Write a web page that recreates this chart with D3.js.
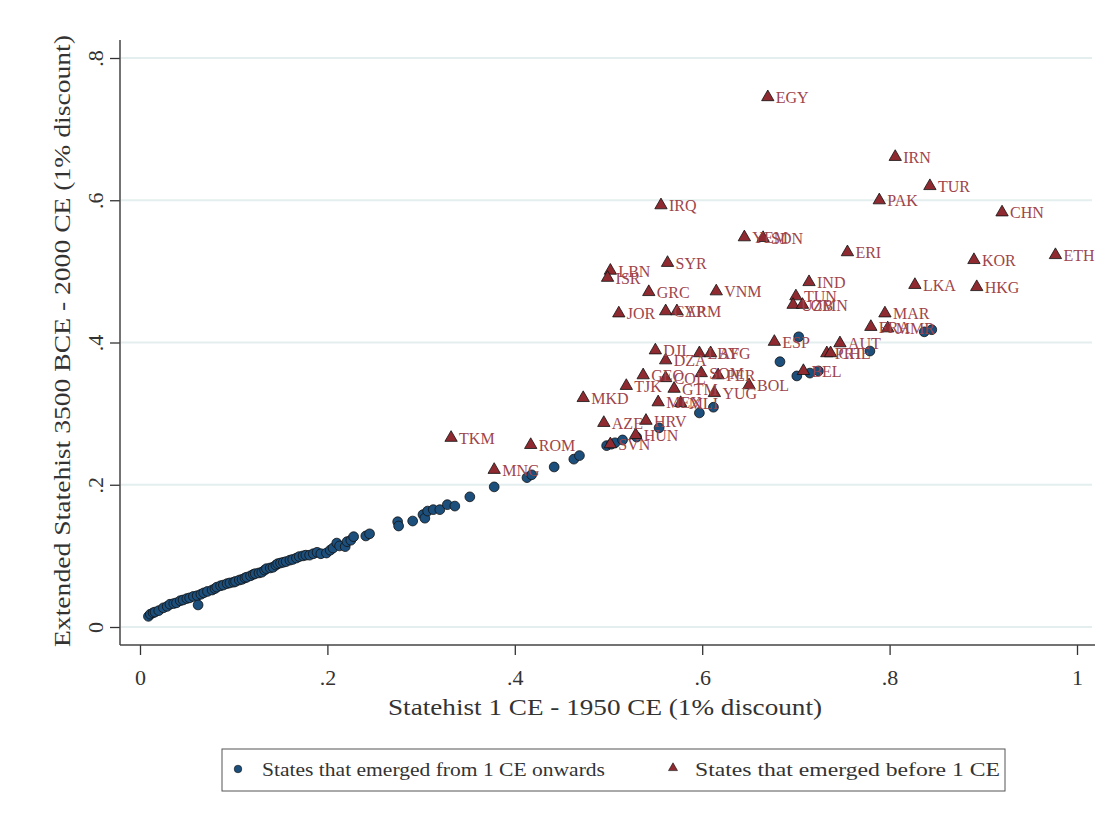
<!DOCTYPE html>
<html>
<head>
<meta charset="utf-8">
<script src="https://cdn.jsdelivr.net/npm/d3@7"></script>
<style>
  body { margin: 0; background: #fff; }
  text { font-family: "Liberation Serif", "DejaVu Serif", serif; }
</style>
</head>
<body>
<script>
// blue points: states that emerged from 1 CE onwards
var circleX = [0.009, 0.011, 0.014, 0.016, 0.020, 0.025, 0.029, 0.032, 0.036, 0.039,
  0.043, 0.046, 0.050, 0.053, 0.057, 0.061, 0.062, 0.065, 0.068, 0.072,
  0.077, 0.080, 0.082, 0.086, 0.089, 0.093, 0.096, 0.100, 0.102, 0.106,
  0.109, 0.112, 0.114, 0.118, 0.121, 0.123, 0.127, 0.130, 0.133, 0.135,
  0.139, 0.142, 0.145, 0.147, 0.150, 0.153, 0.156, 0.160, 0.163, 0.167,
  0.170, 0.174, 0.177, 0.181, 0.185, 0.189, 0.193, 0.199, 0.203, 0.206,
  0.210, 0.213, 0.219, 0.221, 0.225, 0.228, 0.241, 0.245, 0.275, 0.276,
  0.291, 0.302, 0.304, 0.307, 0.313, 0.320, 0.328, 0.336, 0.352, 0.378,
  0.413, 0.418, 0.442, 0.463, 0.469, 0.498, 0.503, 0.507, 0.515, 0.530,
  0.554, 0.597, 0.612, 0.683, 0.701, 0.703, 0.715, 0.724, 0.779, 0.837, 0.845];
var circleY = [0.015, 0.018, 0.020, 0.021, 0.023, 0.027, 0.029, 0.032, 0.033, 0.034,
  0.037, 0.038, 0.040, 0.041, 0.043, 0.044, 0.031, 0.046, 0.048, 0.050,
  0.052, 0.054, 0.056, 0.058, 0.059, 0.061, 0.062, 0.063, 0.064, 0.066,
  0.067, 0.069, 0.070, 0.072, 0.074, 0.075, 0.076, 0.077, 0.080, 0.082,
  0.083, 0.084, 0.087, 0.089, 0.090, 0.091, 0.092, 0.094, 0.095, 0.097,
  0.099, 0.100, 0.101, 0.101, 0.103, 0.105, 0.103, 0.104, 0.108, 0.111,
  0.118, 0.114, 0.113, 0.120, 0.122, 0.127, 0.128, 0.131, 0.148, 0.142,
  0.149, 0.158, 0.153, 0.163, 0.165, 0.165, 0.172, 0.170, 0.183, 0.197,
  0.210, 0.214, 0.225, 0.236, 0.241, 0.255, 0.257, 0.259, 0.263, 0.267,
  0.280, 0.301, 0.309, 0.373, 0.353, 0.408, 0.357, 0.360, 0.388, 0.415, 0.418];

// red triangles: states that emerged before 1 CE
var triCodes = ["EGY", "IRN", "TUR", "PAK", "CHN", "ETH", "KOR", "HKG", "LKA", "ERI",
  "IRQ", "YEM", "SDN", "SYR", "LBN", "ISR", "GRC", "JOR", "CYP", "ARM",
  "VNM", "IND", "TUN", "UZB", "OMN", "MAR", "FRA", "MMR", "AUT", "PRT",
  "CHE", "ESP", "DJI", "DZA", "LBY", "AFG", "GEO", "COL", "SOM", "PER",
  "BOL", "TJK", "GTM", "YUG", "MEX", "MLI", "MKD", "AZE", "HRV", "HUN",
  "SVN", "TKM", "ROM", "MNG", "BEL"];
var triX = [0.670, 0.806, 0.843, 0.789, 0.920, 0.977, 0.890, 0.893, 0.827, 0.755,
  0.556, 0.645, 0.665, 0.563, 0.502, 0.499, 0.543, 0.511, 0.561, 0.573,
  0.615, 0.714, 0.700, 0.697, 0.707, 0.795, 0.780, 0.798, 0.747, 0.733,
  0.737, 0.677, 0.550, 0.561, 0.597, 0.609, 0.537, 0.561, 0.599, 0.617,
  0.650, 0.519, 0.570, 0.613, 0.553, 0.577, 0.473, 0.495, 0.540, 0.529,
  0.502, 0.332, 0.417, 0.378, 0.708];
var triY = [0.745, 0.661, 0.620, 0.600, 0.583, 0.523, 0.516, 0.478, 0.481, 0.527,
  0.593, 0.548, 0.547, 0.512, 0.501, 0.491, 0.471, 0.441, 0.444, 0.444,
  0.472, 0.485, 0.465, 0.453, 0.453, 0.441, 0.422, 0.420, 0.399, 0.385,
  0.385, 0.401, 0.389, 0.375, 0.385, 0.385, 0.354, 0.350, 0.357, 0.354,
  0.340, 0.339, 0.335, 0.329, 0.316, 0.315, 0.322, 0.287, 0.290, 0.270,
  0.257, 0.266, 0.256, 0.221, 0.360];

var xTicks = [0, 0.2, 0.4, 0.6, 0.8, 1];
var yTicks = [0, 0.2, 0.4, 0.6, 0.8];
var xTitle = "Statehist 1 CE - 1950 CE (1% discount)";
var yTitle = "Extended Statehist 3500 BCE - 2000 CE (1% discount)";
var legendLabels = ["States that emerged from 1 CE onwards", "States that emerged before 1 CE"];

var W = 1115, H = 813;
var blue = "#1c4f7c", red = "#8f2a30", labelColor = "#9e454b";

var svg = d3.select("body").append("svg")
  .attr("width", W).attr("height", H);

svg.append("rect").attr("x", 0).attr("y", 0).attr("width", W).attr("height", H)
  .attr("fill", "#fff");

var x = d3.scaleLinear().domain([0, 1]).range([140, 1077]);
var y = d3.scaleLinear().domain([0, 0.8]).range([627, 58]);

var fmt = function(d) { return d === 0 ? "0" : d === 1 ? "1" : d3.format(".1f")(d).replace(/^0/, ""); };

// grid lines
svg.selectAll(".grid").data(yTicks).enter().append("line")
  .attr("x1", 121).attr("x2", 1092)
  .attr("y1", d => y(d)).attr("y2", d => y(d))
  .attr("stroke", "#e4eeee").attr("stroke-width", 2);

// axes
var xAxis = svg.append("g").attr("transform", "translate(0,645)")
  .call(d3.axisBottom(x).tickValues(xTicks).tickFormat(fmt).tickSize(10).tickPadding(14));
var yAxis = svg.append("g").attr("transform", "translate(120,0)")
  .call(d3.axisLeft(y).tickValues(yTicks).tickFormat(fmt).tickSize(10).tickPadding(14));

[xAxis, yAxis].forEach(function(g) {
  g.select(".domain").remove();
  g.selectAll(".tick line").attr("stroke", "#333").attr("stroke-width", 1.3);
  g.selectAll(".tick text").attr("fill", "#333").style("font-size", "22px")
    .style("font-family", "'Liberation Serif', serif");
});
yAxis.selectAll(".tick text")
  .attr("x", null).attr("dy", null)
  .attr("text-anchor", "middle")
  .attr("transform", "translate(-17,0) rotate(-90)");

// axis lines
svg.append("line").attr("x1", 120).attr("x2", 1095).attr("y1", 645).attr("y2", 645)
  .attr("stroke", "#444").attr("stroke-width", 1.5);
svg.append("line").attr("x1", 120).attr("x2", 120).attr("y1", 40).attr("y2", 645)
  .attr("stroke", "#444").attr("stroke-width", 1.5);

// titles
svg.append("text").attr("x", 605).attr("y", 715).attr("text-anchor", "middle")
  .attr("fill", "#333").style("font-size", "23px")
  .attr("textLength", 434).attr("lengthAdjust", "spacingAndGlyphs").text(xTitle);
svg.append("text").attr("transform", "translate(70,341) rotate(-90)")
  .attr("text-anchor", "middle").attr("fill", "#333").style("font-size", "23px")
  .attr("textLength", 612).attr("lengthAdjust", "spacingAndGlyphs").text(yTitle);

// circles
var circles = circleX.map((d, i) => ({ x: d, y: circleY[i] }));
svg.append("g").selectAll("path").data(circles).enter().append("path")
  .attr("d", d3.symbol(d3.symbolCircle, 75))
  .attr("transform", d => "translate(" + x(d.x) + "," + y(d.y) + ")")
  .attr("fill", blue).attr("stroke", "#111").attr("stroke-width", 0.8);

// triangles with labels
var tris = triCodes.map((c, i) => ({ code: c, x: triX[i], y: triY[i] }));
var tg = svg.append("g");
tg.selectAll("path").data(tris).enter().append("path")
  .attr("d", d3.symbol(d3.symbolTriangle, 66))
  .attr("transform", d => "translate(" + x(d.x) + "," + y(d.y) + ")")
  .attr("fill", red).attr("stroke", "#111").attr("stroke-width", 0.8);
tg.selectAll("text").data(tris).enter().append("text")
  .attr("x", d => x(d.x) + 8).attr("y", d => y(d.y) + 6)
  .attr("fill", labelColor).style("font-size", "16px")
  .text(d => d.code);

// legend
var lg = svg.append("g");
lg.append("rect").attr("x", 222).attr("y", 749).attr("width", 783).attr("height", 42)
  .attr("fill", "#fff").attr("stroke", "#555").attr("stroke-width", 1);
lg.append("path").attr("d", d3.symbol(d3.symbolCircle, 45))
  .attr("transform", "translate(238,769)").attr("fill", blue).attr("stroke", "#111").attr("stroke-width", 0.6);
lg.append("path").attr("d", d3.symbol(d3.symbolTriangle, 35))
  .attr("transform", "translate(673,768)").attr("fill", red).attr("stroke", "#111").attr("stroke-width", 0.6);
lg.selectAll("text.lab").data(legendLabels).enter().append("text")
  .attr("x", (d, i) => i === 0 ? 262 : 695).attr("y", 776)
  .attr("fill", "#333").style("font-size", "18px")
  .attr("textLength", (d, i) => i === 0 ? 343 : 305).attr("lengthAdjust", "spacingAndGlyphs")
  .text(d => d);
</script>
</body>
</html>
